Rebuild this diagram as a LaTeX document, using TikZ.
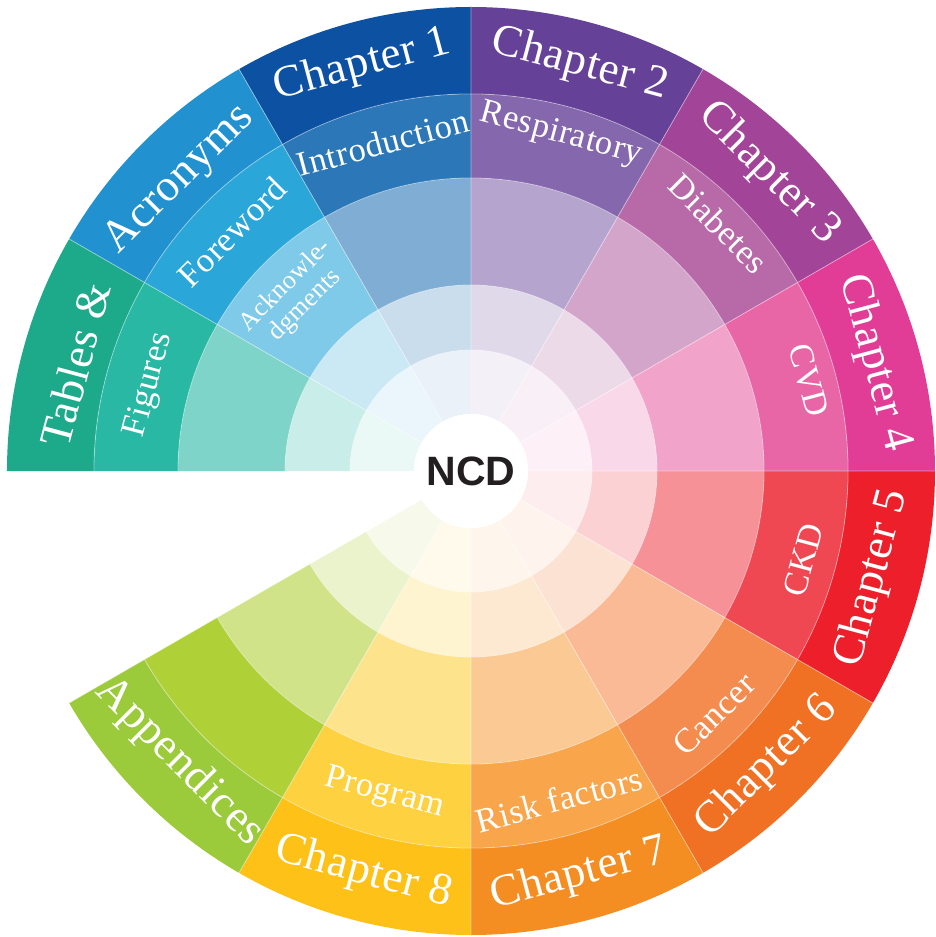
\documentclass[tikz,border=0pt]{standalone}
\usepackage{fontspec}
\setmainfont{Liberation Serif}
\newfontfamily\hubfont{Liberation Sans}
\newfontfamily\ringfont{Liberation Serif}[LetterSpace=1.5]
\usetikzlibrary{calc}
\definecolor{navyout}{HTML}{0D52A2}
\definecolor{navymid}{HTML}{2B77B7}
\definecolor{skyout}{HTML}{2192CF}
\definecolor{skymid}{HTML}{2AA6D8}
\definecolor{tealout}{HTML}{1CAA8B}
\definecolor{tealmid}{HTML}{28B8A4}
\definecolor{violetout}{HTML}{664198}
\definecolor{violetmid}{HTML}{8467AC}
\definecolor{plumout}{HTML}{A24497}
\definecolor{plummid}{HTML}{B86AA8}
\definecolor{pinkout}{HTML}{E13C96}
\definecolor{pinkmid}{HTML}{E866A6}
\definecolor{redout}{HTML}{EC1F2B}
\definecolor{redmid}{HTML}{EF4852}
\definecolor{tangout}{HTML}{F07124}
\definecolor{tangmid}{HTML}{F58C4F}
\definecolor{amberout}{HTML}{F48D22}
\definecolor{ambermid}{HTML}{F8A54C}
\definecolor{goldout}{HTML}{FDC118}
\definecolor{goldmid}{HTML}{FED141}
\definecolor{limeout}{HTML}{9BCA3B}
\definecolor{limemid}{HTML}{B0D038}
\definecolor{ncdink}{HTML}{231F20}
\tikzset{ringlabel/.style={
       text=white,
       inner sep=0,
       align=center
     },
     chapterlabel/.style={ringlabel, font=\ringfont\fontsize{45}{47}\selectfont},
     partlabel/.style={ringlabel, font=\ringfont\fontsize{34.5}{37}\selectfont},
     seam/.style={draw=white, draw opacity=0.45, line width=0.8pt}
}
% one annular piece: start angle, inner radius, outer radius, colour
\newcommand{\ringpart}[4]{%
  \fill[#4] (#1:#2pt) arc[start angle=#1, delta angle=30, radius=#2pt]
    -- (#1+30:#3pt) arc[start angle=#1+30, delta angle=-30, radius=#3pt] -- cycle;}
% five rings of one sector: start angle, outer colour, middle colour
\newcommand{\ncdsector}[3]{%
  \ringpart{#1}{57}{121}{#3!10}
  \ringpart{#1}{121}{186}{#3!25}
  \ringpart{#1}{186}{293}{#3!60}
  \ringpart{#1}{293}{377}{#3}
  \ringpart{#1}{377}{464}{#2}}

\begin{document}
\begin{tikzpicture}[
    x=1pt, y=1pt,
    acklabel/.style={ringlabel, font=\ringfont\fontsize{26}{28}\selectfont}]
    \useasboundingbox (-471,-466) rectangle (464,471);

    \ncdsector{90}{navyout}{navymid}
    \ncdsector{120}{skyout}{skymid}
    \ncdsector{150}{tealout}{tealmid}
    \ncdsector{60}{violetout}{violetmid}
    \ncdsector{30}{plumout}{plummid}
    \ncdsector{0}{pinkout}{pinkmid}
    \ncdsector{-30}{redout}{redmid}
    \ncdsector{-60}{tangout}{tangmid}
    \ncdsector{-90}{amberout}{ambermid}
    \ncdsector{-120}{goldout}{goldmid}
    \ncdsector{-150}{limeout}{limemid}

    % seams between the pieces
    \draw[seam] (-150:57pt) -- (-150:464pt) (-120:57pt) -- (-120:464pt)
      (-90:57pt) -- (-90:464pt) (-60:57pt) -- (-60:464pt)
      (-30:57pt) -- (-30:464pt) (0:57pt) -- (0:464pt)
      (30:57pt) -- (30:464pt) (60:57pt) -- (60:464pt)
      (90:57pt) -- (90:464pt) (120:57pt) -- (120:464pt)
      (150:57pt) -- (150:464pt);
    \draw[seam] (-150:121pt) arc[start angle=-150, end angle=180, radius=121pt]
      (-150:186pt) arc[start angle=-150, end angle=180, radius=186pt]
      (-150:293pt) arc[start angle=-150, end angle=180, radius=293pt]
      (-150:377pt) arc[start angle=-150, end angle=180, radius=377pt];

    \fill[white] (0,0) circle[radius=57pt];
    \node[text=ncdink, font=\hubfont\bfseries\fontsize{41}{43}\selectfont] (ncd) at (0,0) {NCD};

    % outer ring
    \node[chapterlabel, rotate=15] (chone) at (105:420pt) {Chapter 1};
    \node[chapterlabel, rotate=-15] (chtwo) at (75:421pt) {Chapter 2};
    \node[chapterlabel, rotate=-45] (chthree) at (45:421pt) {Chapter 3};
    \node[chapterlabel, rotate=-75] (chfour) at (15:418pt) {Chapter 4};
    \node[chapterlabel, rotate=75] (chfive) at (-15:416pt) {Chapter 5};
    \node[chapterlabel, rotate=45] (chsix) at (-45:418pt) {Chapter 6};
    \node[chapterlabel, rotate=15] (chseven) at (-75:418pt) {Chapter 7};
    \node[chapterlabel, rotate=-15] (cheight) at (-105:416pt) {Chapter 8};
    \node[chapterlabel, rotate=-45] (appx) at (-135:412pt) {Appendices};
    \node[chapterlabel, rotate=45] (acro) at (135:412pt) {Acronyms};
    \node[chapterlabel, rotate=75] (tabs) at (165:410pt) {Tables \&};

    % second ring
    \node[partlabel, rotate=15] (intro) at (105:340pt) {Introduction};
    \node[partlabel, rotate=-15] (resp) at (75:348pt) {Respiratory};
    \node[partlabel, rotate=-45] (diab) at (45:350pt) {Diabetes};
    \node[partlabel, rotate=-75] (cvd) at (15:350pt) {CVD};
    \node[partlabel, rotate=75] (ckd) at (-15:344pt) {CKD};
    \node[partlabel, rotate=45] (cancer) at (-45:344pt) {Cancer};
    \node[partlabel, rotate=15] (risk) at (-75:340pt) {Risk factors};
    \node[partlabel, rotate=-15] (prog) at (-105:334pt) {Program};
    \node[partlabel, rotate=45] (fore) at (135:338pt) {Foreword};
    \node[partlabel, rotate=75] (figs) at (165:333pt) {Figures};

    % third ring
    \node[acklabel, rotate=45] (ack) at (135:248pt) {Acknowle-\\dgments};
\end{tikzpicture}
\end{document}
